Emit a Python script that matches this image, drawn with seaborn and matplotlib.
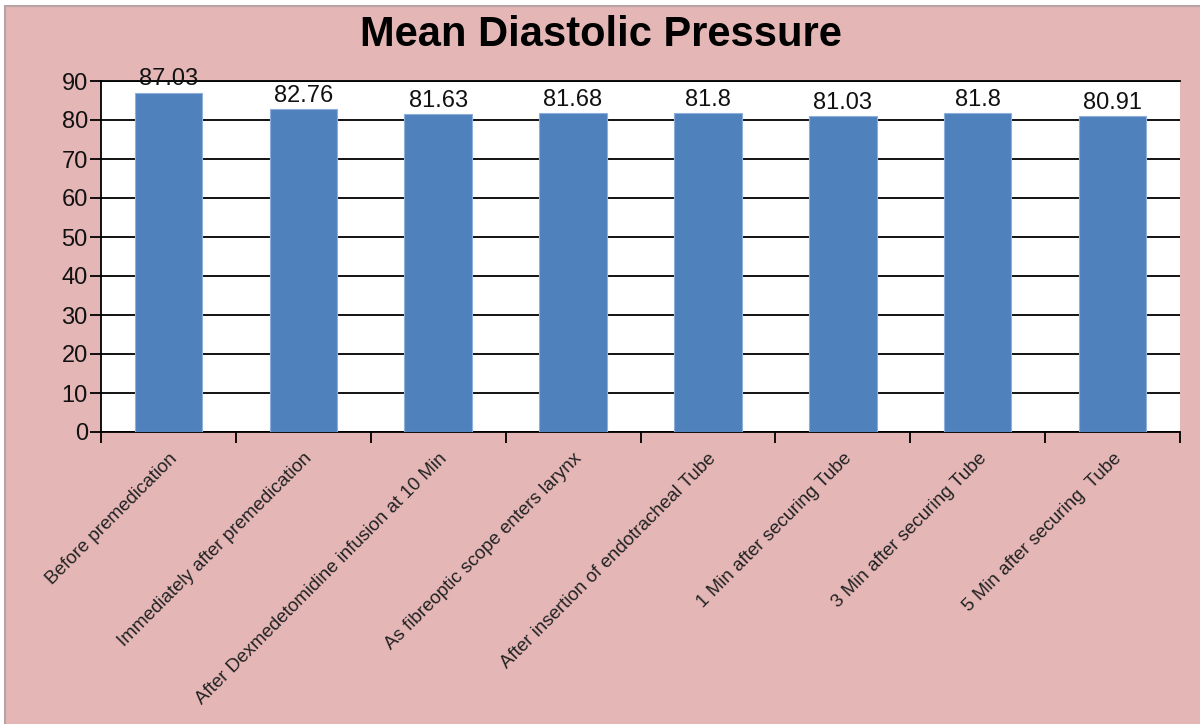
import matplotlib
matplotlib.use("Agg")
import matplotlib.pyplot as plt
from matplotlib.patches import Rectangle
import seaborn as sns
import pandas as pd

categories = [
    "Before premedication",
    "Immediately after premedication",
    "After Dexmedetomidine infusion at 10 Min",
    "As fibreoptic scope enters larynx",
    "After insertion of endotracheal Tube",
    "1 Min after securing Tube",
    "3 Min after securing Tube",
    "5 Min after securing  Tube",
]
values = [87.03, 82.76, 81.63, 81.68, 81.8, 81.03, 81.8, 80.91]
value_labels = ["87.03", "82.76", "81.63", "81.68", "81.8", "81.03", "81.8", "80.91"]
y_ticks = [0, 10, 20, 30, 40, 50, 60, 70, 80, 90]

df = pd.DataFrame({"stage": categories, "pressure": values})

sns.set_theme(style="white")
plt.rcParams["font.family"] = ["Liberation Sans", "DejaVu Sans"]

W, H = 1200, 724
fig = plt.figure(figsize=(W / 100, H / 100), dpi=100, facecolor="white")

# pink chart panel with a thin grey frame, kept behind the axes
fig.patches.append(Rectangle((5 / W, -0.01), 1.02, (H - 6) / H + 0.01,
                             transform=fig.transFigure, facecolor="#E4B6B6",
                             edgecolor="#B8A4A4", linewidth=1.5, zorder=-10))

ax = fig.add_axes([101 / W, 1 - 432 / H, (1180 - 101) / W, (432 - 81) / H])
ax.set_facecolor("white")

sns.barplot(data=df, x="stage", y="pressure", color="#4F81BD", width=0.5,
            saturation=1, edgecolor="#8FB0DA", linewidth=0.8, ax=ax, zorder=3)

ax.set_xlim(-0.5, len(categories) - 0.5)
ax.set_ylim(0, 90)
ax.set_yticks(y_ticks)
ax.set_yticklabels([str(t) for t in y_ticks], fontsize=17, color="#111111")
ax.yaxis.grid(True, color="black", linewidth=1.3, zorder=1)
ax.set_axisbelow(True)

# major ticks on category boundaries, labels on minor ticks at category centres
ax.set_xticks([i - 0.5 for i in range(len(categories) + 1)])
ax.set_xticklabels([])
ax.set_xticks(range(len(categories)), minor=True)
ax.set_xticklabels(categories, minor=True, fontsize=13.5, color="#222222")
ax.tick_params(axis="x", which="major", direction="out", length=8, width=1.3,
               color="black", bottom=True)
ax.tick_params(axis="x", which="minor", length=0, pad=13)
ax.tick_params(axis="y", direction="out", length=8, width=1.3, color="black",
               left=True, pad=1.5)

for lbl in ax.get_xticklabels(minor=True):
    lbl.set_rotation(45)
    lbl.set_ha("right")
    lbl.set_va("top")
    lbl.set_rotation_mode("anchor")

ax.spines["right"].set_visible(False)
for spine in ["left", "bottom", "top"]:
    ax.spines[spine].set_color("black")
    ax.spines[spine].set_linewidth(1.3)

ax.set_xlabel("")
ax.set_ylabel("")

for i, (v, txt) in enumerate(zip(values, value_labels)):
    ax.annotate(txt, (i, v), xytext=(0, 1.5), textcoords="offset points",
                ha="center", va="bottom", fontsize=17, color="#111111", zorder=5)

fig.text(601 / W, 1 - 35 / H, "Mean Diastolic Pressure", ha="center", va="center",
         fontsize=30, fontweight="bold", color="black")

fig.savefig("out.png", dpi=100, facecolor=fig.get_facecolor())
